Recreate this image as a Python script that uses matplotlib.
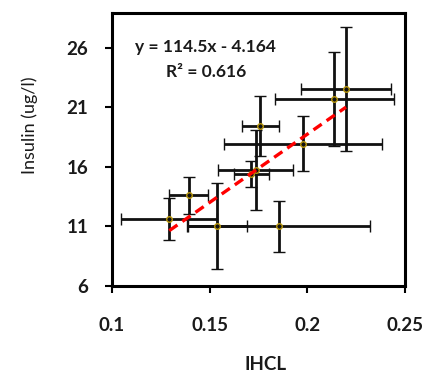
import matplotlib
matplotlib.use("Agg")
import matplotlib.pyplot as plt
import numpy as np

# Data
ihcl = [0.1293, 0.1394, 0.1537, 0.1855, 0.1713, 0.1735, 0.1759, 0.1978, 0.2138, 0.2198]
ihcl_err = [0.0245, 0.0100, 0.0155, 0.0464, 0.0090, 0.0191, 0.0096, 0.0404, 0.0306, 0.0232]
insulin = [11.6, 13.6, 11.0, 11.0, 15.4, 15.75, 19.4, 17.95, 21.66, 22.5]
insulin_err = [1.75, 1.53, 3.6, 2.16, 1.07, 3.34, 2.51, 2.28, 3.94, 5.2]
slope, intercept = 114.5, -4.164
r2 = 0.616
xticks = [0.1, 0.15, 0.2, 0.25]
xtick_labels = ["0.1", "0.15", "0.2", "0.25"]
yticks = [6, 11, 16, 21, 26]

plt.rcParams['font.family'] = ['Lato', 'DejaVu Sans']

fig = plt.figure(figsize=(4.38, 3.71), dpi=100)
ax = fig.add_axes([112/438, 1-286/371, (405-112)/438, (286-13)/371])

ax.errorbar(ihcl, insulin, xerr=ihcl_err, yerr=insulin_err, fmt='o',
            ms=4, mfc='none', mec='#B8960B', mew=1.0,
            ecolor='#111111', elinewidth=2.0, capsize=4.5, capthick=2.0, zorder=2)

xs = np.array([min(ihcl), max(ihcl)])
ax.plot(xs, slope*xs + intercept, color='#FF0000', lw=2.4, ls=(0, (3, 1.8)), zorder=3)

ax.set_xlim(0.1, 0.25)
ax.set_ylim(6, 28.9)
ax.set_xticks(xticks)
ax.set_xticklabels(xtick_labels)
ax.set_yticks(yticks)
for s in ax.spines.values():
    s.set_linewidth(2.2)
ax.tick_params(direction='out', length=5, width=1.5, color='black')
ax.tick_params(axis='x', pad=17)
ax.tick_params(axis='y', pad=12)
for lab in ax.get_xticklabels() + ax.get_yticklabels():
    lab.set_fontweight('bold')
    lab.set_fontsize(13.5)
    lab.set_color('#1a1a1a')

fig.text(266/438, 1-364/371, "IHCL", ha='center', va='center', fontsize=13.5,
         fontweight='bold', color='#1a1a1a')
fig.text(30/438, 1-125/371, "Insulin (ug/l)", ha='center', va='center', rotation=90,
         fontsize=13, color='#1a1a1a')

ax.text(0.32, 0.875, f"y = {slope}x - {abs(intercept)}", transform=ax.transAxes,
        ha='center', va='center', fontsize=12.5, fontweight='bold', color='#1a1a1a')
ax.text(0.32, 0.785, f"R² = {r2}", transform=ax.transAxes,
        ha='center', va='center', fontsize=12.5, fontweight='bold', color='#1a1a1a')

fig.savefig("out.png", dpi=100)
